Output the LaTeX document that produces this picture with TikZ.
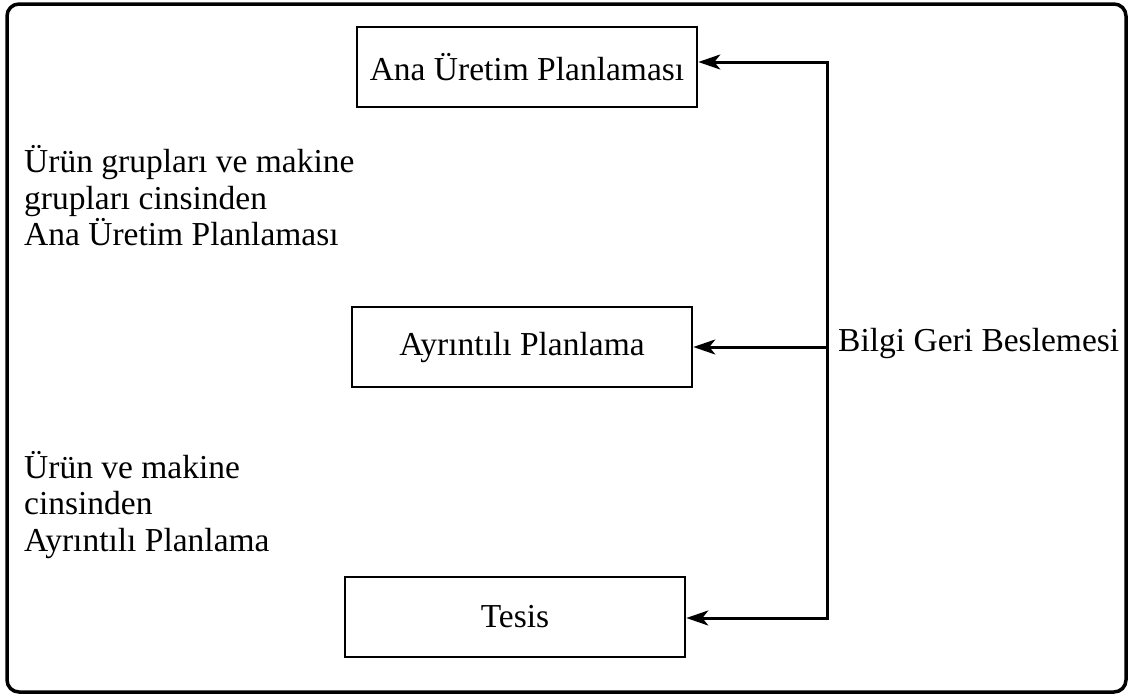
\documentclass[tikz,border=0pt]{standalone}
\usepackage{fontspec}
\setmainfont{Liberation Serif}
\usetikzlibrary{arrows.meta}
\begin{document}
\begin{tikzpicture}[x=1pt,y=-1pt,
  txt/.style={font=\fontsize{33.5}{36.5}\selectfont},
  box/.style={draw, line width=2.6pt, minimum width=340pt, minimum height=80pt, inner sep=0pt, txt},
  lbl/.style={align=left, anchor=west, inner sep=0pt, txt},
  fb/.style={line width=3pt, -{Stealth[length=22pt,width=15pt,inset=6pt]}}]
\useasboundingbox (0,0) rectangle (1130,696);
% outer frame
\draw[line width=3.5pt, rounded corners=12pt] (7,4) rectangle (1126,692);
% planning levels
\node[box] (aup) at (527,67) {Ana Üretim Planlaması};
\node[box] (ap) at (522,347) {Ayrıntılı Planlama};
\node[box] (ts) at (515,617) {Tesis};
% side notes
\node[lbl] (n1) at (24,196) {Ürün grupları ve makine\\grupları cinsinden\\Ana Üretim Planlaması};
\node[lbl] (n2) at (24,505) {Ürün ve makine\\cinsinden\\Ayrıntılı Planlama};
\node[lbl] (fbl) at (838,343) {Bilgi Geri Beslemesi};
% feedback loop
\coordinate (fbt) at (827,62);
\coordinate (fbb) at (827,618);
\draw[line width=3pt, line cap=rect] (fbb) -- (fbt);
\draw[fb] (fbt) -- (aup.east |- fbt);
\draw[fb] (fbt |- ap.east) -- (ap.east);
\draw[fb] (fbb) -- (ts.east |- fbb);
\end{tikzpicture}
\end{document}
